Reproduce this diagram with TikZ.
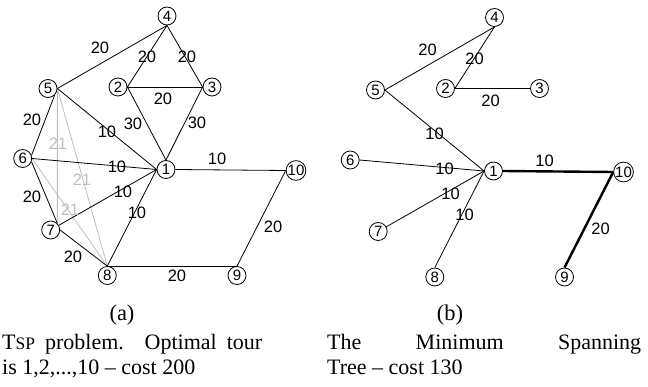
\documentclass[tikz,border=0pt]{standalone}
\usepackage{fontspec}
\setmainfont{Liberation Serif}
\newfontfamily\lblfont{Liberation Sans}
\definecolor{edgegray}{HTML}{BEBEBE}
\begin{document}
\begin{tikzpicture}[x=1pt,y=-1pt,
  vert/.style={circle, draw, line width=0.8pt, minimum size=18pt, inner sep=0pt,
    font=\lblfont\fontsize{15}{15}\selectfont},
  edge/.style={line width=0.8pt},
  gedge/.style={line width=0.8pt, draw=edgegray},
  tedge/.style={line width=2.4pt},
  wlab/.style={font=\lblfont\fontsize{16.5}{16.5}\selectfont, inner sep=0pt},
  glab/.style={wlab, text=edgegray},
  captxt/.style={font=\fontsize{22}{25}\selectfont, inner sep=0pt, anchor=base west},
  subcaptxt/.style={font=\fontsize{22.5}{25}\selectfont, inner sep=0pt, anchor=base}]
\useasboundingbox (0,0) rectangle (648,387);

% ---------- (a) ----------
\node[vert] (a1) at (166,169.5) {1};
\node[vert] (a2) at (118,87) {2};
\node[vert] (a3) at (212,87) {3};
\node[vert] (a4) at (167,16) {4};
\node[vert] (a5) at (48,88.5) {5};
\node[vert] (a6) at (22.7,158.5) {6};
\node[vert] (a7) at (50.7,230) {7};
\node[vert] (a8) at (107.3,275.5) {8};
\node[vert] (a9) at (237,275.5) {9};
\node[vert] (a10) at (296,170.5) {10};

\draw[gedge] (a5.east) -- (a7.45);
\draw[gedge] (a5.east) -- (a8.north);
\draw[gedge] (a6.east) -- (a8.north);

\draw[edge] (a4.south) -- (a5.east);
\draw[edge] (a4.south) -- (a2.east);
\draw[edge] (a4.south) -- (a3.west);
\draw[edge] (a2.east) -- (a3.west);
\draw[edge] (a2.east) -- (a1.north);
\draw[edge] (a3.west) -- (a1.north);
\draw[edge] (a5.east) -- (a1.west);
\draw[edge] (a6.east) -- (a1.west);
\draw[edge] (a7.30) -- (a1.west);
\draw[edge] (a8.north) -- (a1.west);
\draw[edge] (a1.east) -- (a10.west);
\draw[edge] (a10.west) -- (a9.north);
\draw[edge] (a8.north) -- (a9.north);
\draw[edge] (a5.south east) -- (a6.20);
\draw[edge] (a6.-20) -- (a7.north east);
\draw[edge] (a7.east) -- (a8.north);

\node[wlab] (la45) at (100,48) {20};
\node[wlab] (la42) at (147,57) {20};
\node[wlab] (la43) at (187,57) {20};
\node[wlab] (la23) at (163,99) {20};
\node[wlab] (la21) at (133,124) {30};
\node[wlab] (la31) at (197,123) {30};
\node[wlab] (la51) at (107,132) {10};
\node[wlab] (la56) at (32,120) {20};
\node[glab] (la57) at (58,144) {21};
\node[wlab] (la61) at (117,167) {10};
\node[glab] (la58) at (82,180) {21};
\node[wlab] (la110) at (217,159) {10};
\node[wlab] (la67) at (32,197) {20};
\node[wlab] (la71) at (123,192) {10};
\node[glab] (la68) at (70,210) {21};
\node[wlab] (la81) at (137,213) {10};
\node[wlab] (la109) at (273,227) {20};
\node[wlab] (la78) at (73,257) {20};
\node[wlab] (la89) at (177,276) {20};

% ---------- (b) ----------
\begin{scope}[shift={(327.5,1.5)}]
\node[vert] (b1) at (166,169.5) {1};
\node[vert] (b2) at (118,87) {2};
\node[vert] (b3) at (212,87) {3};
\node[vert] (b4) at (167,16) {4};
\node[vert] (b5) at (48,88.5) {5};
\node[vert] (b6) at (22.7,158.5) {6};
\node[vert] (b7) at (50.7,230) {7};
\node[vert] (b8) at (107.3,275.5) {8};
\node[vert] (b9) at (237,275.5) {9};
\node[vert] (b10) at (296,170.5) {10};

\draw[edge] (b4.south) -- (b5.east);
\draw[edge] (b4.south) -- (b2.east);
\draw[edge] (b2.east) -- (b3.west);
\draw[edge] (b5.east) -- (b1.west);
\draw[edge] (b6.east) -- (b1.west);
\draw[edge] (b7.30) -- (b1.west);
\draw[edge] (b8.north) -- (b1.west);
\draw[tedge] (b1.east) -- (b10.west);
\draw[tedge] (b10.west) -- (b9.north);

\node[wlab] (lb45) at (100,48) {20};
\node[wlab] (lb42) at (147,57) {20};
\node[wlab] (lb23) at (163,99) {20};
\node[wlab] (lb51) at (107,132) {10};
\node[wlab] (lb61) at (117,167) {10};
\node[wlab] (lb110) at (217,159) {10};
\node[wlab] (lb71) at (123,192) {10};
\node[wlab] (lb81) at (137,213) {10};
\node[wlab] (lb109) at (273,227) {20};
\end{scope}

% ---------- captions ----------
\node[subcaptxt] (capa) at (122,321) {(a)};
\node[subcaptxt] (capb) at (450,321) {(b)};
\node[captxt] (ta1) at (2,349) {\makebox[260pt][s]{T{\fontsize{17.5}{17.5}\selectfont SP} problem. Optimal tour}};
\node[captxt] (ta2) at (2,374) {is 1,2,...,10 – cost 200};
\node[captxt] (tb1) at (327,349) {\makebox[314pt][s]{The Minimum Spanning}};
\node[captxt] (tb2) at (327,374) {Tree – cost 130};
\end{tikzpicture}
\end{document}
